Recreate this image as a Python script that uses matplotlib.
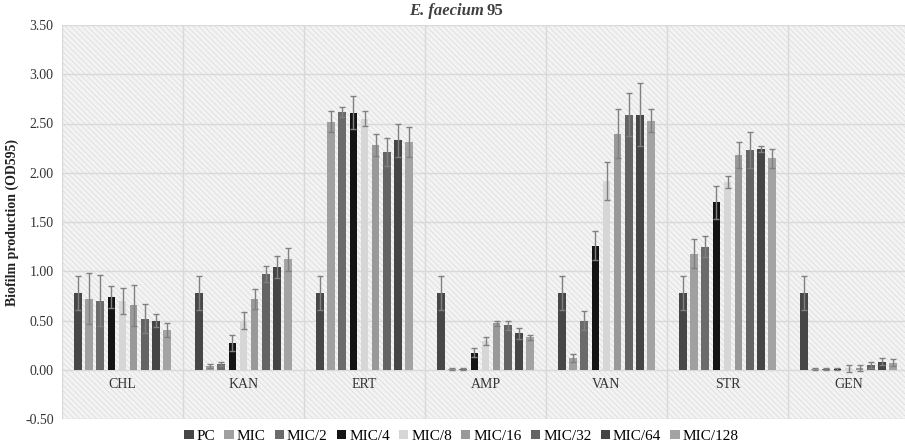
import numpy as np
import matplotlib
matplotlib.use("Agg")
import matplotlib.pyplot as plt
from matplotlib.patches import Rectangle, Patch

plt.rcParams['font.family'] = ['Liberation Serif', 'DejaVu Serif']
plt.rcParams['hatch.linewidth'] = 0.4

# data
categories = ["CHL", "KAN", "ERT", "AMP", "VAN", "STR", "GEN"]
series = ["PC", "MIC", "MIC/2", "MIC/4", "MIC/8", "MIC/16", "MIC/32", "MIC/64", "MIC/128"]

pc = [0.78, 0.78, 0.78, 0.78, 0.78, 0.78, 0.78]
mic = [0.72, 0.04, 2.52, 0.005, 0.115, 1.18, 0.01]
mic2 = [0.70, 0.055, 2.62, 0.005, 0.50, 1.25, 0.005]
mic4 = [0.74, 0.27, 2.61, 0.175, 1.26, 1.70, 0.005]
mic8 = [0.70, 0.50, 2.55, 0.29, 1.915, 1.91, 0.015]
mic16 = [0.655, 0.715, 2.28, 0.47, 2.395, 2.18, 0.02]
mic32 = [0.52, 0.97, 2.21, 0.45, 2.59, 2.23, 0.045]
mic64 = [0.50, 1.045, 2.33, 0.37, 2.59, 2.24, 0.08]
mic128 = [0.40, 1.12, 2.31, 0.33, 2.53, 2.145, 0.07]

pc_err = [0.17, 0.17, 0.17, 0.17, 0.17, 0.17, 0.17]
mic_err = [0.26, 0.02, 0.11, 0.01, 0.04, 0.15, 0.01]
mic2_err = [0.26, 0.02, 0.05, 0.01, 0.10, 0.11, 0.01]
mic4_err = [0.11, 0.08, 0.17, 0.045, 0.15, 0.17, 0.01]
mic8_err = [0.13, 0.09, 0.08, 0.04, 0.19, 0.06, 0.035]
mic16_err = [0.21, 0.10, 0.11, 0.03, 0.25, 0.13, 0.03]
mic32_err = [0.15, 0.08, 0.14, 0.05, 0.22, 0.18, 0.03]
mic64_err = [0.07, 0.11, 0.17, 0.055, 0.32, 0.03, 0.035]
mic128_err = [0.07, 0.12, 0.15, 0.025, 0.12, 0.095, 0.035]

values = [pc, mic, mic2, mic4, mic8, mic16, mic32, mic64, mic128]
errors = [pc_err, mic_err, mic2_err, mic4_err, mic8_err, mic16_err, mic32_err, mic64_err, mic128_err]
colors = ["#474747", "#a0a0a0", "#6b6b6b", "#141414", "#d6d6d6",
          "#999999", "#646464", "#454545", "#a3a3a3"]

fig = plt.figure(figsize=(9.05, 4.46), dpi=100)
ax = fig.add_axes([62 / 905, 27 / 446, 843 / 905, 394 / 446])

# hatched plot background
bg = Rectangle((0, 0), 1, 1, transform=ax.transAxes, facecolor="#f3f3f3",
               edgecolor="#d4d4d4", hatch="\\\\\\\\\\\\", linewidth=0, zorder=0)
ax.add_patch(bg)
ax.set_facecolor("white")

x = np.arange(len(categories))
slot = 0.826 / len(series)
width = slot * 0.7
for i, (vals, errs, c) in enumerate(zip(values, errors, colors)):
    pos = x - 0.826 / 2 + slot * (i + 0.5)
    ax.bar(pos, vals, width, color=c, zorder=3)
    ax.errorbar(pos, vals, yerr=errs, fmt="none", ecolor="#808080",
                elinewidth=1, capsize=2.5, capthick=1, zorder=4)

ax.set_ylim(-0.5, 3.5)
ax.set_xlim(-0.5, -0.5 + 843 / 121)
ax.set_yticks(np.arange(-0.5, 3.51, 0.5))
ax.set_yticklabels([f"{v:.2f}" for v in np.arange(-0.5, 3.51, 0.5)], fontsize=10)
ax.set_xticks([])
for yv in np.arange(-0.5, 3.51, 0.5):
    ax.axhline(yv, color="#d9d9d9", linewidth=1, zorder=1)
for xv in np.arange(-0.5, 7, 1):
    ax.axvline(xv, color="#d9d9d9", linewidth=1, zorder=1)
ax.tick_params(axis="y", length=0, pad=6, colors="#333333")
for s in ax.spines.values():
    s.set_visible(False)

for xi, cat in zip(x, categories):
    ax.text(xi, -0.15, cat, ha="center", va="center", fontsize=10, color="#333333")

ax.set_ylabel("Biofilm production (OD595)", fontsize=10, fontweight="bold", color="#222222")

fig.text(0.535, 0.975, "E. faecium", ha="right", va="center", fontsize=12,
         fontstyle="italic", fontweight="bold", color="#404040")
fig.text(0.538, 0.975, "95", ha="left", va="center", fontsize=12,
         fontweight="bold", color="#404040")

handles = [Patch(facecolor=c, edgecolor="none") for c in colors]
fig.legend(handles, series, loc="center", bbox_to_anchor=(0.51, 0.022), ncol=9,
           frameon=False, fontsize=11, handlelength=0.6, handleheight=0.6,
           handletextpad=0.2, columnspacing=0.6)

fig.savefig("out.png", dpi=100)
